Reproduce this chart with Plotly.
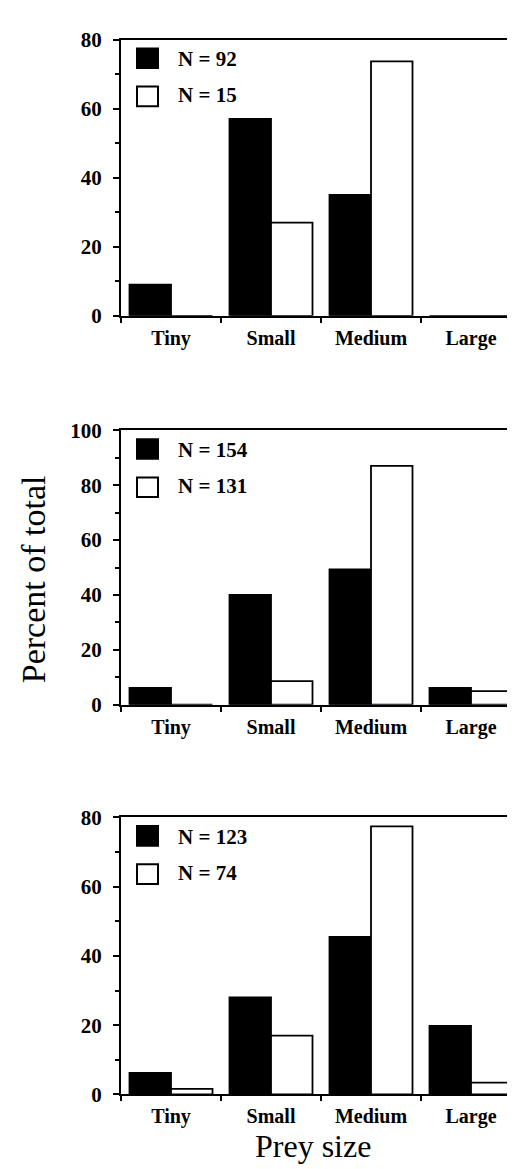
import plotly.graph_objects as go

W, H = 515, 1169

categories = ["Tiny", "Small", "Medium", "Large"]

p1_names = ["N = 92", "N = 15"]
p1_black = [9.0, 57.0, 35.0, 0.0]
p1_white = [0.0, 27.0, 73.7, 0.0]

p2_names = ["N = 154", "N = 131"]
p2_black = [6.1, 40.0, 49.3, 6.1]
p2_white = [0.0, 8.6, 87.1, 4.9]

p3_names = ["N = 123", "N = 74"]
p3_black = [6.2, 28.0, 45.5, 19.8]
p3_white = [1.6, 17.0, 77.4, 3.4]

y_ranges = [[0, 80], [0, 100], [0, 80]]

panels = [
    (p1_names, p1_black, p1_white),
    (p2_names, p2_black, p2_white),
    (p3_names, p3_black, p3_white),
]

# pixel geometry of panels (top, bottom) and x extent
panel_px = [(20, 302), (419, 699), (814, 1097)]
x_left, x_right = 113, 513

FONT = "Liberation Serif"


def px_x(x):
    return x / W


def px_y(y):
    return (H - y) / H


fig = go.Figure()
shapes = []
annotations = []

for i, (names, blk, wht) in enumerate(panels):
    k = "" if i == 0 else str(i + 1)
    xa, ya = "x" + k, "y" + k
    fig.add_trace(go.Bar(x=categories, y=blk, name=names[0], xaxis=xa, yaxis=ya,
                         marker=dict(color="black", line=dict(color="black", width=1.8)),
                         showlegend=False))
    fig.add_trace(go.Bar(x=categories, y=wht, name=names[1], xaxis=xa, yaxis=ya,
                         marker=dict(color="white", line=dict(color="black", width=1.8)),
                         showlegend=False))
    top, bot = panel_px[i]
    fig.update_layout(**{
        "xaxis" + k: dict(
            domain=[px_x(x_left), px_x(x_right)], anchor=ya,
            type="category", tickson="boundaries", ticks="outside", ticklen=5,
            tickwidth=2, tickcolor="black", showline=True, linecolor="black",
            linewidth=2, mirror=True, showgrid=False, zeroline=False,
            tickfont=dict(family=FONT, size=20, color="black", weight="bold"),
            ticklabelstandoff=3,
        ),
        "yaxis" + k: dict(
            domain=[px_y(bot), px_y(top)], anchor=xa, range=y_ranges[i],
            dtick=20, ticks="outside", ticklen=6, tickwidth=2, tickcolor="black",
            minor=dict(dtick=10, ticks="outside", ticklen=4, tickwidth=2, tickcolor="black"),
            showline=True, linecolor="black", linewidth=2, mirror=True,
            showgrid=False, zeroline=False,
            tickfont=dict(family=FONT, size=21, color="black", weight="bold"),
            ticklabelstandoff=7,
        ),
    })
    # legend keys
    for j, (fill, name) in enumerate([("black", names[0]), ("white", names[1])]):
        y0 = top + (9 if j == 0 else 48)
        y1 = y0 + 20
        shapes.append(dict(type="rect", xref="paper", yref="paper",
                           x0=px_x(129), x1=px_x(150), y0=px_y(y1), y1=px_y(y0),
                           fillcolor=fill, line=dict(color="black", width=2)))
        annotations.append(dict(xref="paper", yref="paper", x=px_x(168),
                                y=px_y(top + (20 if j == 0 else 57)),
                                xanchor="left", yanchor="middle", showarrow=False,
                                text=name,
                                font=dict(family=FONT, size=21, color="black", weight="bold")))

annotations.append(dict(xref="paper", yref="paper", x=px_x(25), y=px_y(571),
                        text="Percent of total", textangle=-90, showarrow=False,
                        xanchor="center", yanchor="middle",
                        font=dict(family=FONT, size=34, color="black")))
annotations.append(dict(xref="paper", yref="paper", x=px_x(305), y=px_y(1150),
                        text="Prey size", showarrow=False,
                        xanchor="center", yanchor="middle",
                        font=dict(family=FONT, size=32, color="black")))

fig.update_layout(
    width=W, height=H, margin=dict(l=0, r=0, t=0, b=0),
    paper_bgcolor="white", plot_bgcolor="white",
    barmode="group", bargap=0.17, bargroupgap=0,
    shapes=shapes, annotations=annotations, showlegend=False,
)

fig.write_html("out.html")
